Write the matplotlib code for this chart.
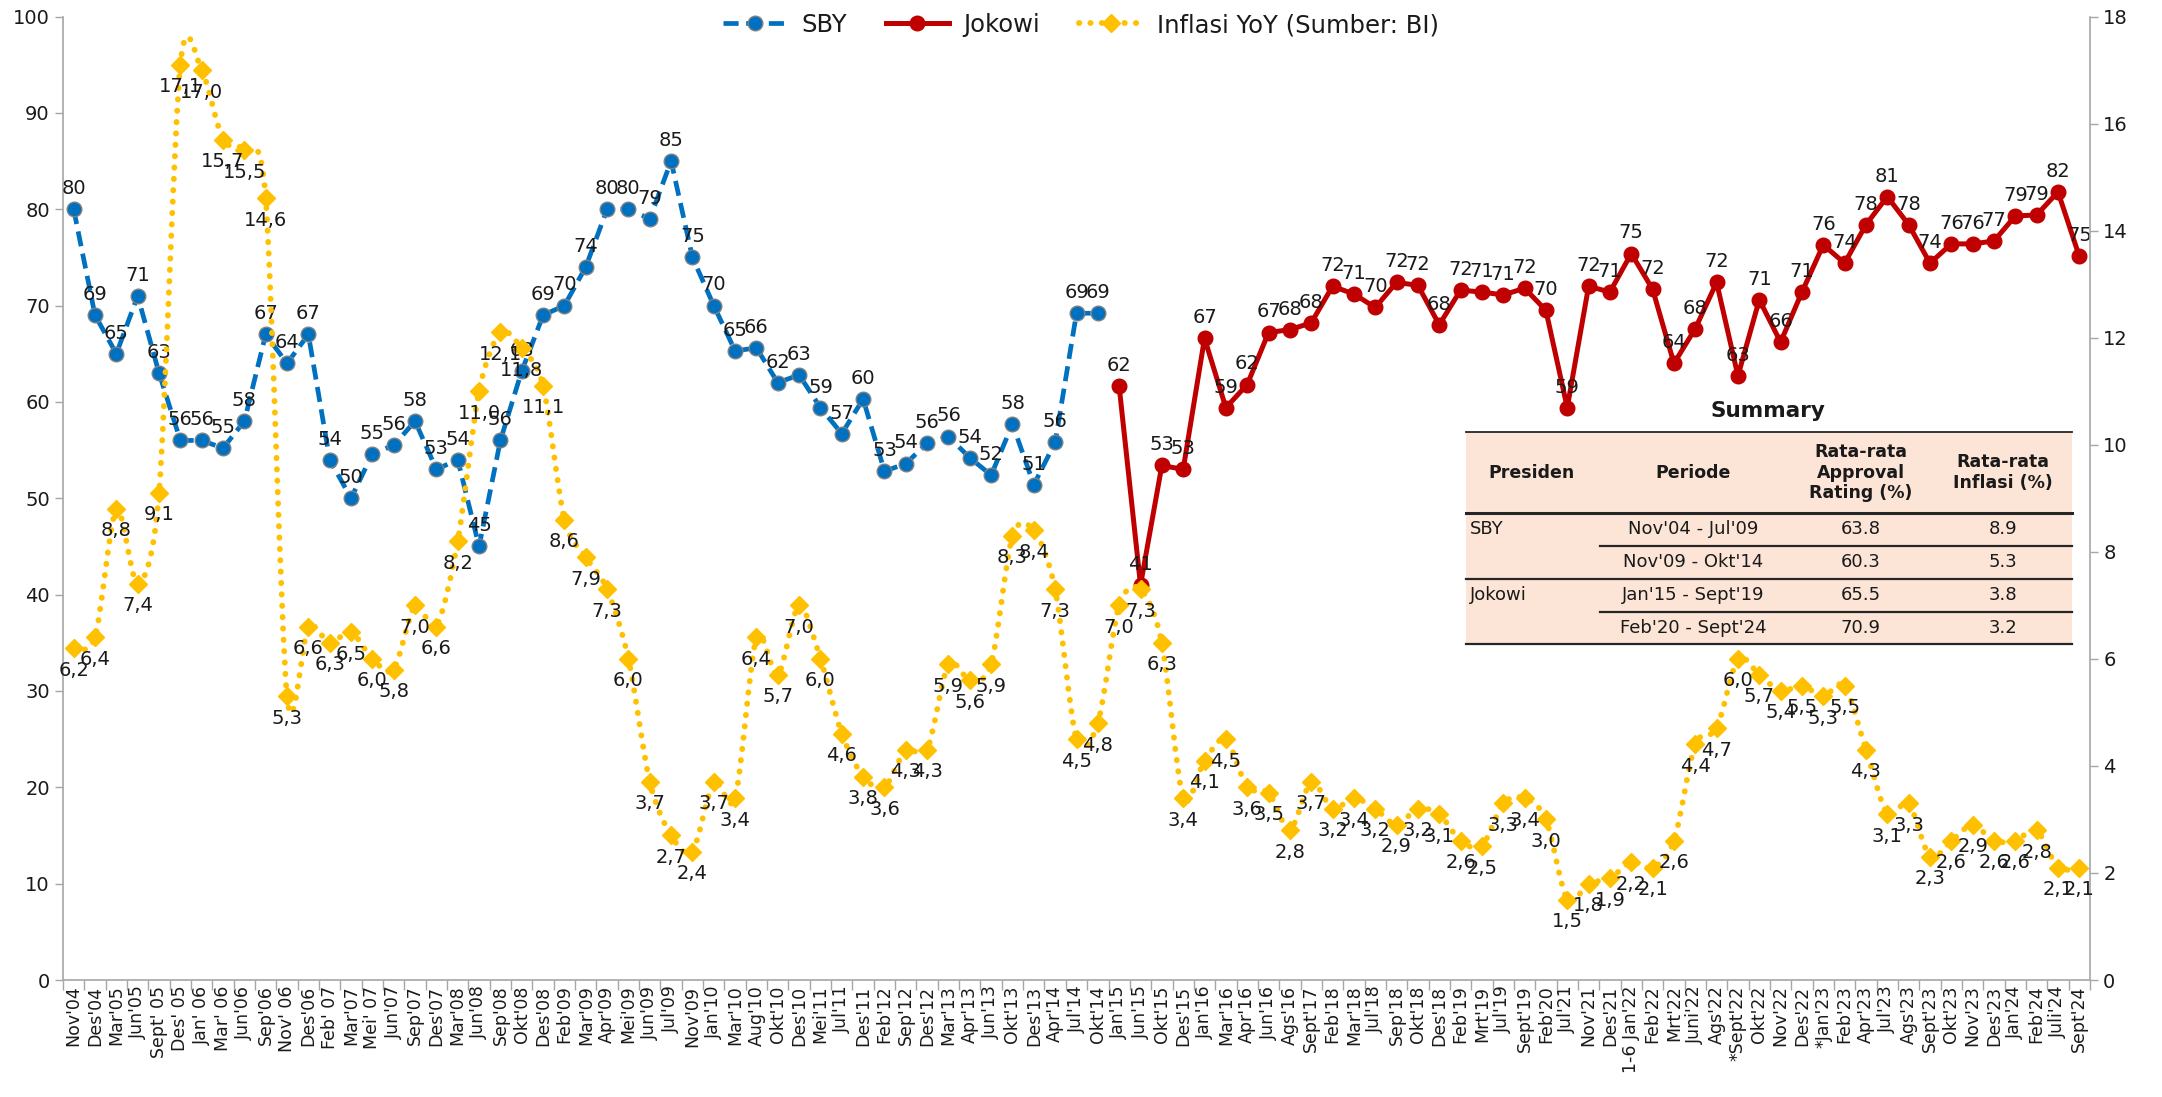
import numpy as np
import matplotlib
matplotlib.use("Agg")
import matplotlib.pyplot as plt
from matplotlib.path import Path
from matplotlib.patches import PathPatch, Rectangle
from matplotlib.lines import Line2D

plt.rcParams['font.family'] = ['DejaVu Sans']

# ---------------- data ----------------
categories = [
    "Nov'04", "Des'04", "Mar'05", "Jun'05", "Sept' 05", "Des' 05", "Jan' 06", "Mar' 06",
    "Jun'06", "Sep'06", "Nov' 06", "Des'06", "Feb' 07", "Mar'07", "Mei' 07", "Jun'07",
    "Sep'07", "Des'07", "Mar'08", "Jun'08", "Sep'08", "Okt'08", "Des'08", "Feb'09",
    "Mar'09", "Apr'09", "Mei'09", "Jun'09", "Jul'09", "Nov'09", "Jan'10", "Mar'10",
    "Aug'10", "Okt'10", "Des'10", "Mei'11", "Jul'11", "Des'11", "Feb'12", "Sep'12",
    "Des'12", "Mar'13", "Apr'13", "Jun'13", "Okt'13", "Des'13", "Apr'14", "Jul'14",
    "Okt'14", "Jan'15", "Jun'15", "Okt'15", "Des'15", "Jan'16", "Mar'16", "Apr'16",
    "Jun'16", "Ags'16", "Sept'17", "Feb'18", "Mar'18", "Jul'18", "Sep'18", "Okt'18",
    "Des'18", "Feb'19", "Mrt'19", "Jul'19", "Sept'19", "Feb'20", "Jul'21", "Nov'21",
    "Des'21", "1-6 Jan'22", "Feb'22", "Mrt'22", "Juni'22", "Ags'22", "*Sept'22", "Okt'22",
    "Nov'22", "Des'22", "*Jan'23", "Feb'23", "Apr'23", "Jul'23", "Ags'23", "Sept'23",
    "Okt'23", "Nov'23", "Des'23", "Jan'24", "Feb'24", "Juli'24", "Sept'24",
]

sby_values = [
    80, 69, 65, 71, 63, 56, 56, 55.2, 58, 67, 64, 67, 54, 50, 54.6, 55.5, 58, 53, 54, 45,
    56, 63.2, 69, 70, 74, 80, 80, 79, 85, 75, 70, 65.3, 65.6, 62, 62.8, 59.4, 56.7, 60.3,
    52.8, 53.6, 55.7, 56.4, 54.2, 52.4, 57.7, 51.4, 55.8, 69.2, 69.2,
]

jokowi_values = [
    61.6, 41, 53.4, 53, 66.6, 59.4, 61.8, 67.2, 67.5, 68.2, 72, 71.2, 69.8, 72.4, 72.1, 68,
    71.6, 71.4, 71.1, 71.8, 69.5, 59.4, 72, 71.4, 75.4, 71.7, 64, 67.6, 72.4, 62.7, 70.6,
    66.2, 71.4, 76.3, 74.4, 78.4, 81.3, 78.4, 74.4, 76.4, 76.4, 76.7, 79.3, 79.4, 81.8, 75.1,
]

inflation_values = [
    6.2, 6.4, 8.8, 7.4, 9.1, 17.1, 17.0, 15.7, 15.5, 14.6, 5.3, 6.6, 6.3, 6.5, 6.0, 5.8,
    7.0, 6.6, 8.2, 11.0, 12.1, 11.8, 11.1, 8.6, 7.9, 7.3, 6.0, 3.7, 2.7, 2.4, 3.7, 3.4,
    6.4, 5.7, 7.0, 6.0, 4.6, 3.8, 3.6, 4.3, 4.3, 5.9, 5.6, 5.9, 8.3, 8.4, 7.3, 4.5,
    4.8, 7.0, 7.3, 6.3, 3.4, 4.1, 4.5, 3.6, 3.5, 2.8, 3.7, 3.2, 3.4, 3.2, 2.9, 3.2,
    3.1, 2.6, 2.5, 3.3, 3.4, 3.0, 1.5, 1.8, 1.9, 2.2, 2.1, 2.6, 4.4, 4.7, 6.0, 5.7,
    5.4, 5.5, 5.3, 5.5, 4.3, 3.1, 3.3, 2.3, 2.6, 2.9, 2.6, 2.6, 2.8, 2.1, 2.1,
]

series_names = ["SBY", "Jokowi", "Inflasi YoY (Sumber: BI)"]

table_title = "Summary"
table_headers = ["Presiden", "Periode", "Rata-rata\nApproval\nRating (%)", "Rata-rata\nInflasi (%)"]
table_presiden = ["SBY", "", "Jokowi", ""]
table_periode = ["Nov'04 - Jul'09", "Nov'09 - Okt'14", "Jan'15 - Sept'19", "Feb'20 - Sept'24"]
table_approval = ["63.8", "60.3", "65.5", "70.9"]
table_inflasi = ["8.9", "5.3", "3.8", "3.2"]

# ---------------- style ----------------
BLUE = "#0070C0"
RED = "#C00000"
GOLD = "#FFC000"
TXT = "#1A1A1A"
AXC = "#A6A6A6"

W, H = 2162, 1097
fig = plt.figure(figsize=(W / 100, H / 100), dpi=100)

def fx(px):
    return px / W

def fy(py):
    return 1 - py / H

ax_left, ax_right, ax_top, ax_bot = 63, 2090, 16.5, 980
ax = fig.add_axes([fx(ax_left), fy(ax_bot), fx(ax_right - ax_left), (ax_bot - ax_top) / H])
ax2 = ax.twinx()

n = len(categories)
x_all = np.arange(n)
x_sby = x_all[:len(sby_values)]
x_jok = x_all[len(sby_values):len(sby_values) + len(jokowi_values)]

# SBY
l_sby, = ax.plot(x_sby, sby_values, color=BLUE, lw=3.4, ls=(0, (3.2, 1.6)),
                 marker="o", ms=10.5, mfc=BLUE, mec="#7F7F7F", mew=1.0, zorder=3)
# Jokowi
l_jok, = ax.plot(x_jok, jokowi_values, color=RED, lw=3.6, ls="-",
                 marker="o", ms=10.5, mfc=RED, mec=RED, zorder=3)

# Inflation - smoothed dotted line (Excel-like smoothing through data points)
def smooth_path(xs, ys, k=7.0):
    pts = np.column_stack([xs, ys]).astype(float)
    m = len(pts)
    verts = [pts[0]]
    codes = [Path.MOVETO]
    for i in range(m - 1):
        p0 = pts[i - 1] if i > 0 else pts[i]
        p1 = pts[i]
        p2 = pts[i + 1]
        p3 = pts[i + 2] if i + 2 < m else pts[i + 1]
        c1 = p1 + (p2 - p0) / k
        c2 = p2 - (p3 - p1) / k
        verts += [c1, c2, p2]
        codes += [Path.CURVE4] * 3
    return Path(verts, codes)

infl_patch = PathPatch(smooth_path(x_all, inflation_values), fill=False, edgecolor=GOLD,
                       lw=4.2, linestyle=(0, (0.05, 1.9)), capstyle="round",
                       transform=ax2.transData, zorder=2)
ax2.add_patch(infl_patch)
ax2.plot(x_all, inflation_values, ls="none", marker="D", ms=9.5, color=GOLD, zorder=3)

# data labels
LBL = 14
for xi, v in zip(x_sby, sby_values):
    ax.annotate(f"{v:.0f}", (xi, v), xytext=(0, 8), textcoords="offset points",
                ha="center", va="bottom", fontsize=LBL, color=TXT, zorder=4)
for xi, v in zip(x_jok, jokowi_values):
    ax.annotate(f"{v:.0f}", (xi, v), xytext=(0, 8), textcoords="offset points",
                ha="center", va="bottom", fontsize=LBL, color=TXT, zorder=4)
for xi, v in zip(x_all, inflation_values):
    ax2.annotate(f"{v:.1f}".replace(".", ","), (xi, v), xytext=(0, -9), textcoords="offset points",
                 ha="center", va="top", fontsize=LBL, color=TXT, zorder=4)

# axes
ax.set_xlim(-0.5, n - 0.5)
ax.set_ylim(0, 100)
ax2.set_ylim(0, 18)
ax.set_yticks(np.arange(0, 101, 10))
ax2.set_yticks(np.arange(0, 19, 2))
ax.set_xticks(x_all)
ax.set_xticklabels(categories, rotation=90, fontsize=12.5, color=TXT)
ax.set_xticks(np.arange(-0.5, n, 1.0), minor=True)
ax.tick_params(axis="x", which="major", length=0, pad=4)
ax.tick_params(axis="x", which="minor", length=7, color=AXC, width=1)
ax.tick_params(axis="y", labelsize=14, colors=TXT, length=6, width=1)
ax.tick_params(axis="y", color=AXC)
ax2.tick_params(axis="y", labelsize=14, colors=TXT, length=6, width=1)
ax2.tick_params(axis="y", color=AXC)

for a in (ax, ax2):
    a.spines["top"].set_visible(False)
    for s in ("left", "right", "bottom"):
        a.spines[s].set_color(AXC)
        a.spines[s].set_linewidth(1.2)
ax.spines["right"].set_visible(False)
ax2.spines["left"].set_visible(False)
ax2.spines["bottom"].set_visible(False)
ax.patch.set_visible(False)

# legend
h_infl = Line2D([], [], color=GOLD, lw=4.2, ls=(0, (0.05, 1.9)), dash_capstyle="round",
                marker="D", ms=9.5)
fig.legend([l_sby, l_jok, h_infl], series_names, loc="center", bbox_to_anchor=(0.5, fy(25)),
           ncol=3, frameon=False, fontsize=17.5, handlelength=2.6, columnspacing=1.6,
           handletextpad=0.6, labelcolor=TXT)

# summary table
t_left, t_right = 1466, 2072
row_y = [432, 513, 546, 579, 612, 644]
col_div = 1600
col_cx = [1532, 1693, 1861, 2003]
fig.add_artist(Rectangle((fx(t_left), fy(row_y[-1])), fx(t_right - t_left), (row_y[-1] - row_y[0]) / H,
                         transform=fig.transFigure, facecolor="#FCE4D6", edgecolor="none", zorder=5))

def hline(y, x0, x1, lw):
    fig.add_artist(Line2D([fx(x0), fx(x1)], [fy(y), fy(y)], transform=fig.transFigure,
                          color="#262626", lw=lw, zorder=6))

hline(row_y[0], t_left, t_right, 1.3)
hline(row_y[1], t_left, t_right, 2.2)
hline(row_y[2], col_div, t_right, 1.6)
hline(row_y[3], t_left, t_right, 1.6)
hline(row_y[4], col_div, t_right, 1.6)
hline(row_y[5], t_left, t_right, 1.6)

fig.text(fx(1768), fy(411), table_title, ha="center", va="center", fontsize=15.5,
         fontweight="bold", color=TXT, zorder=7)
hy = (row_y[0] + row_y[1]) / 2
for cx, hd in zip(col_cx, table_headers):
    fig.text(fx(cx), fy(hy), hd, ha="center", va="center", fontsize=12.5, fontweight="bold",
             color=TXT, linespacing=1.15, zorder=7)
for i in range(4):
    cy = (row_y[i + 1] + row_y[i + 2]) / 2
    if table_presiden[i]:
        fig.text(fx(t_left + 4), fy(cy), table_presiden[i], ha="left", va="center",
                 fontsize=13, color=TXT, zorder=7)
    fig.text(fx(col_cx[1]), fy(cy), table_periode[i], ha="center", va="center",
             fontsize=13, color=TXT, zorder=7)
    fig.text(fx(col_cx[2]), fy(cy), table_approval[i], ha="center", va="center",
             fontsize=13, color=TXT, zorder=7)
    fig.text(fx(col_cx[3]), fy(cy), table_inflasi[i], ha="center", va="center",
             fontsize=13, color=TXT, zorder=7)

fig.savefig("out.png", dpi=100, facecolor="white")
